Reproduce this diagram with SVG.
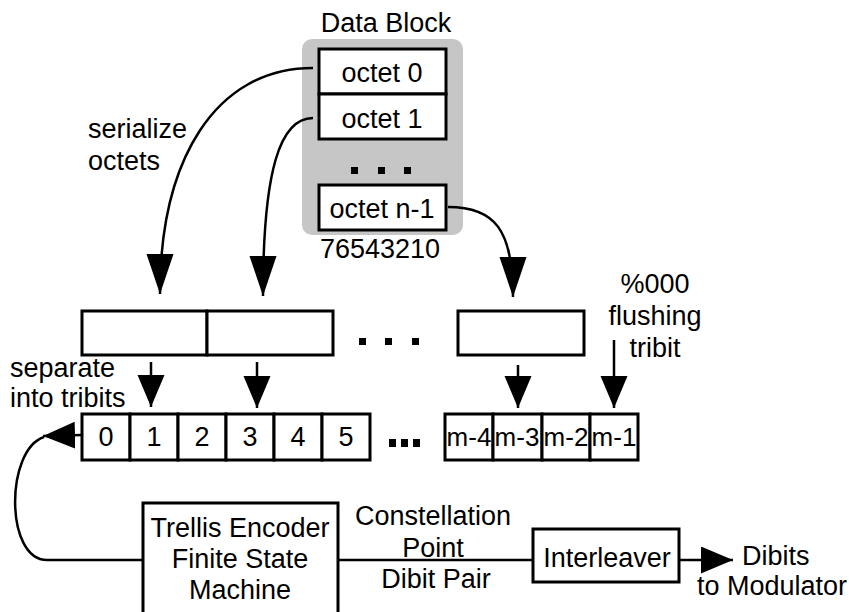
<svg xmlns="http://www.w3.org/2000/svg" width="849" height="612" viewBox="0 0 849 612">
<defs>
<style>
text{font-family:"Liberation Sans",Arial,sans-serif;font-size:27px;fill:#000}
.c{text-anchor:middle}
.m{text-anchor:middle;font-size:26px}
.dot{fill:#000}
.box{fill:#fff;stroke:#000;stroke-width:3}
.ln{fill:none;stroke:#000;stroke-width:2.5}
.cv{fill:none;stroke:#000;stroke-width:2.5;marker-end:url(#big)}
.ar{fill:none;stroke:#000;stroke-width:2.5;marker-end:url(#head)}
</style>
<marker id="big" markerUnits="userSpaceOnUse" markerWidth="42" markerHeight="30" refX="40" refY="13.5" orient="auto">
<path d="M0,0 L40,13.5 L0,27 Z" fill="#000"/>
</marker>
<marker id="head" markerUnits="userSpaceOnUse" markerWidth="36" markerHeight="30" refX="32" refY="13.5" orient="auto">
<path d="M0,0 L32,13.5 L0,27 Z" fill="#000"/>
</marker>
</defs>
<rect width="849" height="612" fill="#fff"/>

<g id="data-block">
<text class="c" x="386" y="32">Data Block</text>
<rect x="302" y="39" width="161" height="196" rx="10" fill="#c6c6c6"/>
<g id="octet0"><rect class="box" x="319" y="49" width="127" height="45"/><text class="c" x="382" y="82">octet 0</text></g>
<g id="octet1"><rect class="box" x="319" y="94" width="127" height="45"/><text class="c" x="382" y="128">octet 1</text></g>
<rect class="dot" x="351" y="167" width="7" height="7"/>
<rect class="dot" x="378" y="167" width="7" height="7"/>
<rect class="dot" x="404" y="167" width="7" height="7"/>
<g id="octetn1"><rect class="box" x="319" y="185" width="127" height="45"/><text class="c" x="382" y="218">octet n-1</text></g>
<text class="c" x="380" y="258">76543210</text>
</g>

<g id="labels">
<text x="88" y="138">serialize</text>
<text x="88" y="170">octets</text>
<text x="10" y="377">separate</text>
<text x="10" y="407">into tribits</text>
<text class="c" x="655" y="293">%000</text>
<text class="c" x="655" y="325">flushing</text>
<text class="c" x="655" y="357">tribit</text>
<text class="c" x="433" y="525">Constellation</text>
<text class="c" x="433" y="557">Point</text>
<text class="c" x="436" y="588">Dibit Pair</text>
<text x="742" y="565">Dibits</text>
<text x="697" y="595">to Modulator</text>
</g>

<g id="octet-row">
<rect class="box" x="82" y="311" width="125" height="44"/>
<rect class="box" x="207" y="311" width="126" height="44"/>
<rect class="dot" x="359" y="338" width="7" height="7"/>
<rect class="dot" x="385" y="338" width="7" height="7"/>
<rect class="dot" x="412" y="338" width="7" height="7"/>
<rect class="box" x="458" y="311" width="126" height="44"/>
</g>

<g id="tribit-row">
<rect class="box" x="82" y="414" width="48" height="46"/><text class="c" x="106" y="446">0</text>
<rect class="box" x="130" y="414" width="48" height="46"/><text class="c" x="154" y="446">1</text>
<rect class="box" x="178" y="414" width="48" height="46"/><text class="c" x="202" y="446">2</text>
<rect class="box" x="226" y="414" width="48" height="46"/><text class="c" x="250" y="446">3</text>
<rect class="box" x="274" y="414" width="48" height="46"/><text class="c" x="298" y="446">4</text>
<rect class="box" x="322" y="414" width="48" height="46"/><text class="c" x="346" y="446">5</text>
<rect class="dot" x="389" y="439" width="7" height="8"/>
<rect class="dot" x="401" y="439" width="7" height="8"/>
<rect class="dot" x="413" y="439" width="7" height="8"/>
<rect class="box" x="445" y="414" width="48" height="46"/><text class="m" x="469" y="446">m-4</text>
<rect class="box" x="493" y="414" width="49" height="46"/><text class="m" x="517" y="446">m-3</text>
<rect class="box" x="542" y="414" width="48" height="46"/><text class="m" x="566" y="446">m-2</text>
<rect class="box" x="590" y="414" width="48" height="46"/><text class="m" x="614" y="446">m-1</text>
</g>

<g id="trellis">
<rect class="box" x="143" y="503" width="195" height="130"/>
<text class="c" x="240" y="537">Trellis Encoder</text>
<text class="c" x="240" y="568">Finite State</text>
<text class="c" x="240" y="599">Machine</text>
</g>

<g id="interleaver">
<rect class="box" x="533" y="529" width="146" height="53"/>
<text class="c" x="607" y="567">Interleaver</text>
</g>

<g id="connectors">
<path class="cv" d="M313,68 C215,68 160,160 160,294"/>
<path class="cv" d="M313,118 C280,118 263,170 263,296"/>
<path class="cv" d="M448,207 C495,207 513,230 513,297"/>
<path class="ar" d="M151,362 L151,407"/>
<path class="ar" d="M257,362 L257,408"/>
<path class="ar" d="M518,365 L518,408"/>
<path class="ar" d="M614,340 L614,408"/>
<path class="ar" d="M82,435 L43,436"/>
<path class="ln" d="M44,437 C5,450 5,560 47,560 L143,560"/>
<path class="ln" d="M338,560 L533,560"/>
<path class="ar" d="M679,560 L733,560"/>
</g>
</svg>
